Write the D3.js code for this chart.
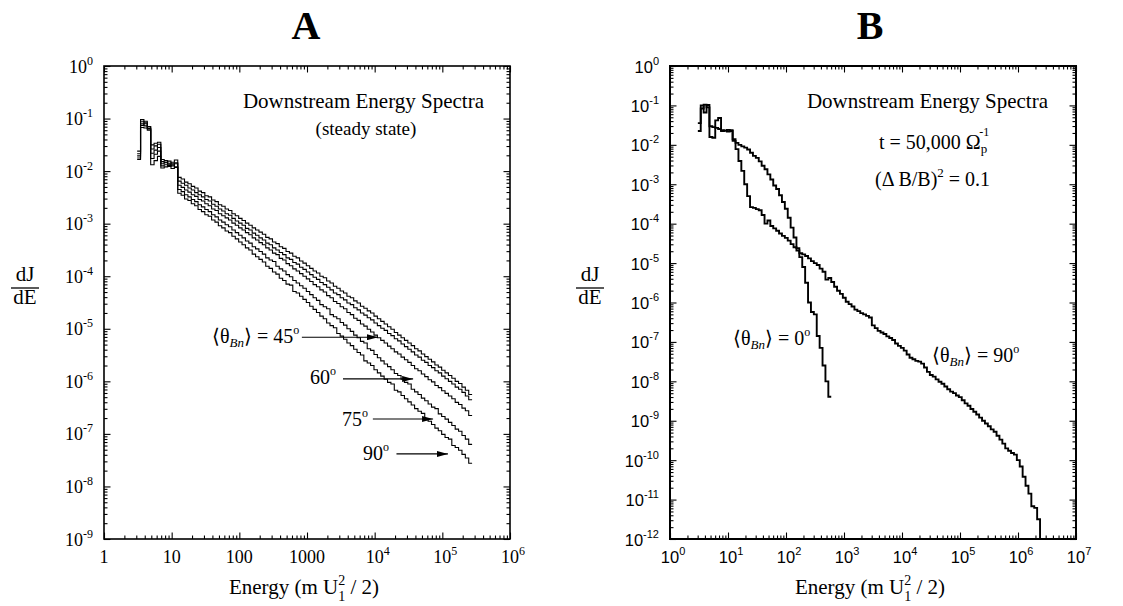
<!DOCTYPE html>
<html>
<head>
<meta charset="utf-8">
<script src="https://cdn.jsdelivr.net/npm/d3@7"></script>
<style>
  body { margin: 0; background: #fff; }
  svg { display: block; }
</style>
</head>
<body>
<svg id="chart" width="1123" height="606"></svg>
<script>
// histograms: log10(dJ/dE) per energy bin, 20 bins per decade
var binsPerDecade = 20;
var startA = 0.49;   // log10 E of the first bin edge, panel A
var startB = 0.48;   // same for panel B

// panel A, steady state, five obliquities (top to bottom)
var curveA1 = [-1.62,-1.02,-1.10,-1.16,-1.50,-1.47,-1.45,-1.78,-1.80,-1.85,-1.83,-1.79,
  -2.12,-2.15,-2.21,-2.24,-2.29,-2.32,-2.38,-2.41,-2.47,-2.49,
  -2.55,-2.58,-2.64,-2.67,-2.72,-2.75,-2.81,-2.85,-2.90,-2.94,
  -2.99,-3.03,-3.08,-3.12,-3.16,-3.20,-3.26,-3.29,-3.35,-3.38,
  -3.44,-3.47,-3.53,-3.56,-3.62,-3.65,-3.71,-3.75,-3.80,-3.85,
  -3.90,-3.94,-4.00,-4.03,-4.09,-4.13,-4.19,-4.23,-4.28,-4.32,
  -4.38,-4.41,-4.47,-4.51,-4.57,-4.61,-4.66,-4.70,-4.76,-4.81,
  -4.86,-4.91,-4.96,-5.01,-5.07,-5.12,-5.17,-5.22,-5.27,-5.32,
  -5.38,-5.42,-5.48,-5.53,-5.58,-5.63,-5.69,-5.73,-5.79,-5.84,
  -5.89,-5.94,-6.00,-6.04,-6.11,-6.17,-6.25];
var curveA2 = [-1.67,-1.06,-1.05,-1.19,-1.58,-1.52,-1.55,-1.82,-1.84,-1.81,-1.86,-1.84,
  -2.19,-2.23,-2.27,-2.32,-2.36,-2.41,-2.45,-2.49,-2.54,-2.57,
  -2.63,-2.67,-2.72,-2.76,-2.81,-2.84,-2.90,-2.95,-2.99,-3.03,
  -3.09,-3.12,-3.18,-3.22,-3.27,-3.31,-3.37,-3.40,-3.46,-3.50,
  -3.55,-3.59,-3.65,-3.68,-3.74,-3.77,-3.83,-3.87,-3.92,-3.97,
  -4.02,-4.06,-4.12,-4.16,-4.21,-4.26,-4.32,-4.35,-4.41,-4.45,
  -4.51,-4.54,-4.60,-4.64,-4.70,-4.74,-4.79,-4.83,-4.89,-4.94,
  -4.99,-5.03,-5.09,-5.13,-5.19,-5.23,-5.29,-5.34,-5.39,-5.44,
  -5.50,-5.54,-5.60,-5.64,-5.70,-5.74,-5.80,-5.84,-5.90,-5.95,
  -6.00,-6.05,-6.11,-6.15,-6.21,-6.28,-6.35];
var curveA3 = [-1.71,-1.10,-1.14,-1.15,-1.66,-1.60,-1.49,-1.86,-1.83,-1.87,-1.90,-1.86,
  -2.27,-2.31,-2.36,-2.40,-2.45,-2.48,-2.54,-2.57,-2.62,-2.66,
  -2.72,-2.75,-2.81,-2.85,-2.89,-2.93,-2.99,-3.03,-3.08,-3.12,
  -3.17,-3.21,-3.27,-3.31,-3.36,-3.40,-3.46,-3.50,-3.56,-3.59,
  -3.66,-3.69,-3.76,-3.80,-3.86,-3.90,-3.95,-4.00,-4.05,-4.10,
  -4.16,-4.20,-4.26,-4.30,-4.37,-4.41,-4.48,-4.52,-4.58,-4.62,
  -4.69,-4.73,-4.80,-4.84,-4.91,-4.95,-5.01,-5.06,-5.12,-5.17,
  -5.22,-5.27,-5.33,-5.38,-5.44,-5.48,-5.54,-5.59,-5.64,-5.70,
  -5.76,-5.80,-5.86,-5.91,-5.97,-6.01,-6.08,-6.12,-6.18,-6.23,
  -6.28,-6.33,-6.40,-6.44,-6.51,-6.56,-6.65];
var curveA4 = [-1.75,-1.13,-1.08,-1.22,-1.76,-1.68,-1.62,-1.90,-1.88,-1.91,-1.88,-1.92,
  -2.35,-2.39,-2.45,-2.49,-2.54,-2.58,-2.64,-2.68,-2.73,-2.77,
  -2.83,-2.87,-2.93,-2.97,-3.02,-3.06,-3.12,-3.17,-3.22,-3.27,
  -3.33,-3.37,-3.44,-3.48,-3.53,-3.58,-3.65,-3.69,-3.72,-3.81,
  -3.86,-3.90,-3.97,-4.01,-4.08,-4.13,-4.18,-4.23,-4.29,-4.35,
  -4.41,-4.46,-4.54,-4.58,-4.62,-4.73,-4.77,-4.81,-4.88,-4.93,
  -5.00,-5.05,-5.12,-5.17,-5.24,-5.27,-5.38,-5.41,-5.49,-5.55,
  -5.61,-5.67,-5.72,-5.78,-5.85,-5.89,-5.96,-6.02,-6.05,-6.15,
  -6.20,-6.25,-6.32,-6.37,-6.43,-6.49,-6.52,-6.62,-6.67,-6.72,
  -6.78,-6.84,-6.91,-6.95,-7.03,-7.10,-7.20];
var curveA5 = [-1.78,-1.17,-1.18,-1.20,-1.88,-1.80,-1.72,-1.94,-1.92,-1.89,-1.95,-1.93,
  -2.42,-2.46,-2.53,-2.56,-2.62,-2.66,-2.73,-2.77,-2.83,-2.86,
  -2.93,-2.97,-3.04,-3.08,-3.14,-3.17,-3.24,-3.29,-3.35,-3.40,
  -3.46,-3.50,-3.58,-3.63,-3.68,-3.73,-3.81,-3.85,-3.92,-3.96,
  -4.04,-4.08,-4.15,-4.17,-4.29,-4.32,-4.38,-4.44,-4.50,-4.57,
  -4.63,-4.69,-4.76,-4.81,-4.89,-4.94,-4.98,-5.09,-5.14,-5.20,
  -5.27,-5.32,-5.39,-5.45,-5.50,-5.61,-5.65,-5.70,-5.78,-5.84,
  -5.90,-5.96,-6.02,-6.05,-6.17,-6.20,-6.27,-6.33,-6.39,-6.45,
  -6.52,-6.57,-6.61,-6.73,-6.76,-6.82,-6.89,-6.94,-7.01,-7.07,
  -7.10,-7.22,-7.26,-7.31,-7.39,-7.46,-7.56];

// panel B, t = 50,000
var theta0B = [-1.65,-1.00,-1.18,-0.99,-1.53,-1.55,-1.57,-1.60,-1.63,-1.64,-1.62,-1.65,
  -1.90,-1.95,-2.00,-2.04,-2.07,-2.12,-2.20,-2.28,-2.33,-2.42,
  -2.53,-2.62,-2.75,-2.88,-3.03,-3.12,-3.28,-3.45,-3.62,-3.85,
  -4.10,-4.35,-4.62,-4.85,-5.10,-5.50,-6.00,-6.24,-6.30,-6.85,
  -7.15,-7.60,-8.00,-8.39];
var theta90B = [-1.45,-1.08,-0.98,-1.05,-1.80,-1.82,-1.38,-1.32,-1.65,-1.64,-1.66,-1.63,
  -1.86,-2.11,-2.41,-2.66,-3.00,-3.30,-3.58,-3.60,-3.63,-3.66,
  -3.78,-4.00,-3.92,-4.06,-4.12,-4.18,-4.25,-4.31,-4.36,-4.43,
  -4.52,-4.60,-4.68,-4.75,-4.78,-4.82,-4.88,-4.95,-5.00,-5.05,
  -5.14,-5.22,-5.42,-5.38,-5.48,-5.60,-5.70,-5.78,-5.88,-5.98,
  -6.04,-6.10,-6.18,-6.22,-6.27,-6.30,-6.34,-6.38,-6.58,-6.65,
  -6.72,-6.76,-6.80,-6.86,-6.90,-6.95,-7.04,-7.10,-7.15,-7.22,
  -7.32,-7.40,-7.44,-7.48,-7.50,-7.55,-7.65,-7.76,-7.84,-7.88,
  -7.95,-8.01,-8.06,-8.13,-8.20,-8.26,-8.30,-8.36,-8.40,-8.48,
  -8.56,-8.62,-8.70,-8.77,-8.84,-8.92,-9.00,-9.07,-9.14,-9.22,
  -9.28,-9.38,-9.48,-9.58,-9.70,-9.76,-9.82,-9.86,-10.00,-10.16,
  -10.42,-10.65,-10.85,-11.17,-11.21,-11.50];

// ticks and labels
var xTicksA = [1, 10, 100, 1000, 1e4, 1e5, 1e6];
var xLabelsA = ['1', '10', '100', '1000', '10^4', '10^5', '10^6'];
var yTicksA = [1, 1e-1, 1e-2, 1e-3, 1e-4, 1e-5, 1e-6, 1e-7, 1e-8, 1e-9];
var yLabelsA = ['10^0', '10^-1', '10^-2', '10^-3', '10^-4', '10^-5', '10^-6', '10^-7', '10^-8', '10^-9'];
var xTicksB = [1, 10, 100, 1e3, 1e4, 1e5, 1e6, 1e7];
var xLabelsB = ['10^0', '10^1', '10^2', '10^3', '10^4', '10^5', '10^6', '10^7'];
var yTicksB = [1, 1e-1, 1e-2, 1e-3, 1e-4, 1e-5, 1e-6, 1e-7, 1e-8, 1e-9, 1e-10, 1e-11, 1e-12];
var yLabelsB = ['10^0', '10^-1', '10^-2', '10^-3', '10^-4', '10^-5', '10^-6', '10^-7', '10^-8', '10^-9', '10^-10', '10^-11', '10^-12'];

// arrows in panel A: [E from, E to, dJ/dE]
var arrowsA = [[8.4e2, 1.12e4, 6.9e-6], [3.4e3, 3.7e4, 1.11e-6], [9.4e3, 7.3e4, 1.92e-7], [2.1e4, 1.21e5, 4.15e-8]];

var SERIF = "'Liberation Serif', 'Times New Roman', serif";
var SANS = "'Liberation Sans', Arial, sans-serif";

var svg = d3.select('#chart');
svg.append('rect').attr('width', 1123).attr('height', 606).attr('fill', '#fff');

var defs = svg.append('defs');
defs.append('marker').attr('id', 'head')
  .attr('markerWidth', 11).attr('markerHeight', 6)
  .attr('refX', 11).attr('refY', 3)
  .attr('orient', 'auto').attr('markerUnits', 'userSpaceOnUse')
  .append('path').attr('d', 'M0,0 L11,3 L0,6 Z').attr('fill', '#000');

function minorTicks(dom){
  var lo = Math.round(Math.log10(dom[0])), hi = Math.round(Math.log10(dom[1]));
  var out = [];
  for (var e = Math.min(lo, hi); e < Math.max(lo, hi); e++)
    for (var m = 2; m <= 9; m++) out.push(m * Math.pow(10, e));
  return out;
}

function powLabel(sel, str, supSize, supDy){
  var parts = str.split('^');
  sel.append('tspan').text(parts[0]);
  if (parts.length > 1)
    sel.append('tspan').attr('class', 'sup').attr('font-size', supSize).attr('dy', supDy).text(parts[1]);
}

function drawPanel(p){
  var x = d3.scaleLog().domain(p.xDomain).range([p.left, p.right]);
  var y = d3.scaleLog().domain(p.yDomain).range([p.bottom, p.top]);
  var g = svg.append('g');

  // inward ticks on all four sides
  var xMinor = minorTicks(p.xDomain), yMinor = minorTicks(p.yDomain);
  var sides = [
    [d3.axisBottom(x), 'translate(0,' + p.bottom + ')', p.xTicks, xMinor],
    [d3.axisTop(x), 'translate(0,' + p.top + ')', p.xTicks, xMinor],
    [d3.axisLeft(y), 'translate(' + p.left + ',0)', p.yTicks, yMinor],
    [d3.axisRight(y), 'translate(' + p.right + ',0)', p.yTicks, yMinor]
  ];
  sides.forEach(function(s){
    [[s[2], 6.5], [s[3], 3.5]].forEach(function(m){
      var a = g.append('g').attr('transform', s[1])
        .call(s[0].tickValues(m[0]).tickSizeInner(-m[1]).tickSizeOuter(0).tickFormat(''));
      a.select('.domain').remove();
      a.selectAll('line').attr('stroke', '#000').attr('stroke-width', 1.1);
    });
  });

  g.append('rect')
    .attr('x', p.left).attr('y', p.top)
    .attr('width', p.right - p.left).attr('height', p.bottom - p.top)
    .attr('fill', 'none').attr('stroke', '#000').attr('stroke-width', p.frameWidth);

  // tick labels
  g.selectAll('text.ylab').data(p.yTicks).join('text')
    .attr('class', 'ylab')
    .attr('x', p.left - 11).attr('y', function(d){ return y(d) + 6.5; })
    .attr('text-anchor', 'end')
    .attr('font-family', p.tickFont).attr('font-size', p.tickSize)
    .each(function(d, i){ powLabel(d3.select(this), p.yLabels[i], p.supSize, -8); });

  g.selectAll('text.xlab').data(p.xTicks).join('text')
    .attr('class', 'xlab')
    .attr('x', function(d){ return x(d); }).attr('y', 563)
    .attr('text-anchor', 'middle')
    .attr('font-family', p.tickFont).attr('font-size', p.tickSize)
    .each(function(d, i){
      var t = d3.select(this);
      powLabel(t, p.xLabels[i], p.supSize, -8);
      var sup = t.select('tspan.sup').node();
      if (sup) t.attr('x', x(d) + sup.getComputedTextLength() / 2);
    });

  // histograms
  var line = d3.line()
    .x(function(d){ return x(d[0]); })
    .y(function(d){ return y(d[1]); })
    .curve(d3.curveStepAfter);
  p.series.forEach(function(s){
    var n = s.values.length;
    var pts = s.values.map(function(v, k){
      return [Math.pow(10, p.start + k / binsPerDecade), Math.pow(10, v)];
    });
    pts.push([Math.pow(10, p.start + n / binsPerDecade), Math.pow(10, s.values[n - 1])]);
    if (s.dropToAxis) pts.push([pts[n][0], p.yDomain[0]]);
    g.append('path').attr('d', line(pts))
      .attr('fill', 'none').attr('stroke', '#000')
      .attr('stroke-width', p.lineWidth).attr('stroke-linejoin', 'miter');
  });

  // panel letter
  g.append('text').attr('x', p.titleX).attr('y', 39)
    .attr('text-anchor', 'middle').attr('font-family', SERIF)
    .attr('font-weight', 'bold').attr('font-size', 40).text(p.title);

  // y title dJ/dE
  g.append('text').attr('x', p.fracX).attr('y', 281).attr('text-anchor', 'middle')
    .attr('font-family', SERIF).attr('font-size', 21).text('dJ');
  g.append('line').attr('x1', p.fracX - 14).attr('x2', p.fracX + 14)
    .attr('y1', 288).attr('y2', 288).attr('stroke', '#000').attr('stroke-width', 1.3);
  g.append('text').attr('x', p.fracX).attr('y', 304).attr('text-anchor', 'middle')
    .attr('font-family', SERIF).attr('font-size', 21).text('dE');

  // x title
  var xt = g.append('text').attr('x', (p.left + p.right) / 2 - 3).attr('y', 594)
    .attr('text-anchor', 'middle').attr('font-family', SERIF).attr('font-size', 21);
  xt.append('tspan').text('Energy (m U');
  xt.append('tspan').attr('font-size', 14).attr('dy', -9).text('2');
  xt.append('tspan').attr('font-size', 14).attr('dx', -7).attr('dy', 16).text('1');
  xt.append('tspan').attr('dy', -7).text(' / 2)');

  return {g: g, x: x, y: y};
}

function thetaLabel(g, x, yb, deg){
  var t = g.append('text').attr('x', x).attr('y', yb)
    .attr('font-family', SERIF).attr('font-size', 20);
  t.append('tspan').text('\u27E8\u03B8');
  t.append('tspan').attr('font-style', 'italic').attr('font-size', 13).attr('dy', 4).text('Bn');
  t.append('tspan').attr('dy', -4).text('\u27E9 = ' + deg);
  t.append('tspan').attr('font-size', 12).attr('dy', -9).text('o');
}

function degLabel(g, x, yb, deg){
  var t = g.append('text').attr('x', x).attr('y', yb)
    .attr('font-family', SERIF).attr('font-size', 20);
  t.append('tspan').text(deg);
  t.append('tspan').attr('font-size', 12).attr('dy', -9).text('o');
}

// ---- panel A
var A = drawPanel({
  title: 'A', titleX: 306, fracX: 25,
  left: 104, right: 510, top: 66, bottom: 539,
  xDomain: [1, 1e6], yDomain: [1e-9, 1],
  xTicks: xTicksA, xLabels: xLabelsA, yTicks: yTicksA, yLabels: yLabelsA,
  tickFont: SERIF, tickSize: 18, supSize: 12,
  frameWidth: 1.6, lineWidth: 1.1, start: startA,
  series: [{values: curveA1}, {values: curveA2}, {values: curveA3}, {values: curveA4}, {values: curveA5}]
});

A.g.append('text').attr('x', 484).attr('y', 108).attr('text-anchor', 'end')
  .attr('font-family', SERIF).attr('font-size', 21).text('Downstream Energy Spectra');
A.g.append('text').attr('x', 366).attr('y', 135).attr('text-anchor', 'middle')
  .attr('font-family', SERIF).attr('font-size', 19).text('(steady state)');

thetaLabel(A.g, 212, 343, '45');
degLabel(A.g, 310, 384, '60');
degLabel(A.g, 342, 426, '75');
degLabel(A.g, 363, 460, '90');

A.g.selectAll('line.arrow').data(arrowsA).join('line')
  .attr('class', 'arrow')
  .attr('x1', function(d){ return A.x(d[0]); })
  .attr('x2', function(d){ return A.x(d[1]); })
  .attr('y1', function(d){ return A.y(d[2]); })
  .attr('y2', function(d){ return A.y(d[2]); })
  .attr('stroke', '#000').attr('stroke-width', 1.2)
  .attr('marker-end', 'url(#head)');

// ---- panel B
var B = drawPanel({
  title: 'B', titleX: 870, fracX: 590,
  left: 670, right: 1076, top: 66, bottom: 539,
  xDomain: [1, 1e7], yDomain: [1e-12, 1],
  xTicks: xTicksB, xLabels: xLabelsB, yTicks: yTicksB, yLabels: yLabelsB,
  tickFont: SANS, tickSize: 16.5, supSize: 11,
  frameWidth: 2, lineWidth: 1.9, start: startB,
  series: [{values: theta0B}, {values: theta90B, dropToAxis: true}]
});

B.g.append('text').attr('x', 1048).attr('y', 108).attr('text-anchor', 'end')
  .attr('font-family', SERIF).attr('font-size', 21).text('Downstream Energy Spectra');

var tt = B.g.append('text').attr('x', 879).attr('y', 149)
  .attr('font-family', SERIF).attr('font-size', 20);
tt.append('tspan').text('t = 50,000 \u03A9');
tt.append('tspan').attr('font-size', 13).attr('dy', 4).text('p');
tt.append('tspan').attr('font-size', 12).attr('dx', -8).attr('dy', -17).text('-1');

var db = B.g.append('text').attr('x', 875).attr('y', 186)
  .attr('font-family', SERIF).attr('font-size', 20);
db.append('tspan').text('(\u0394 B/B)');
db.append('tspan').attr('font-size', 13).attr('dy', -9).text('2');
db.append('tspan').attr('dy', 9).text(' = 0.1');

thetaLabel(B.g, 733, 345, '0');
thetaLabel(B.g, 932, 362, '90');
</script>
</body>
</html>
